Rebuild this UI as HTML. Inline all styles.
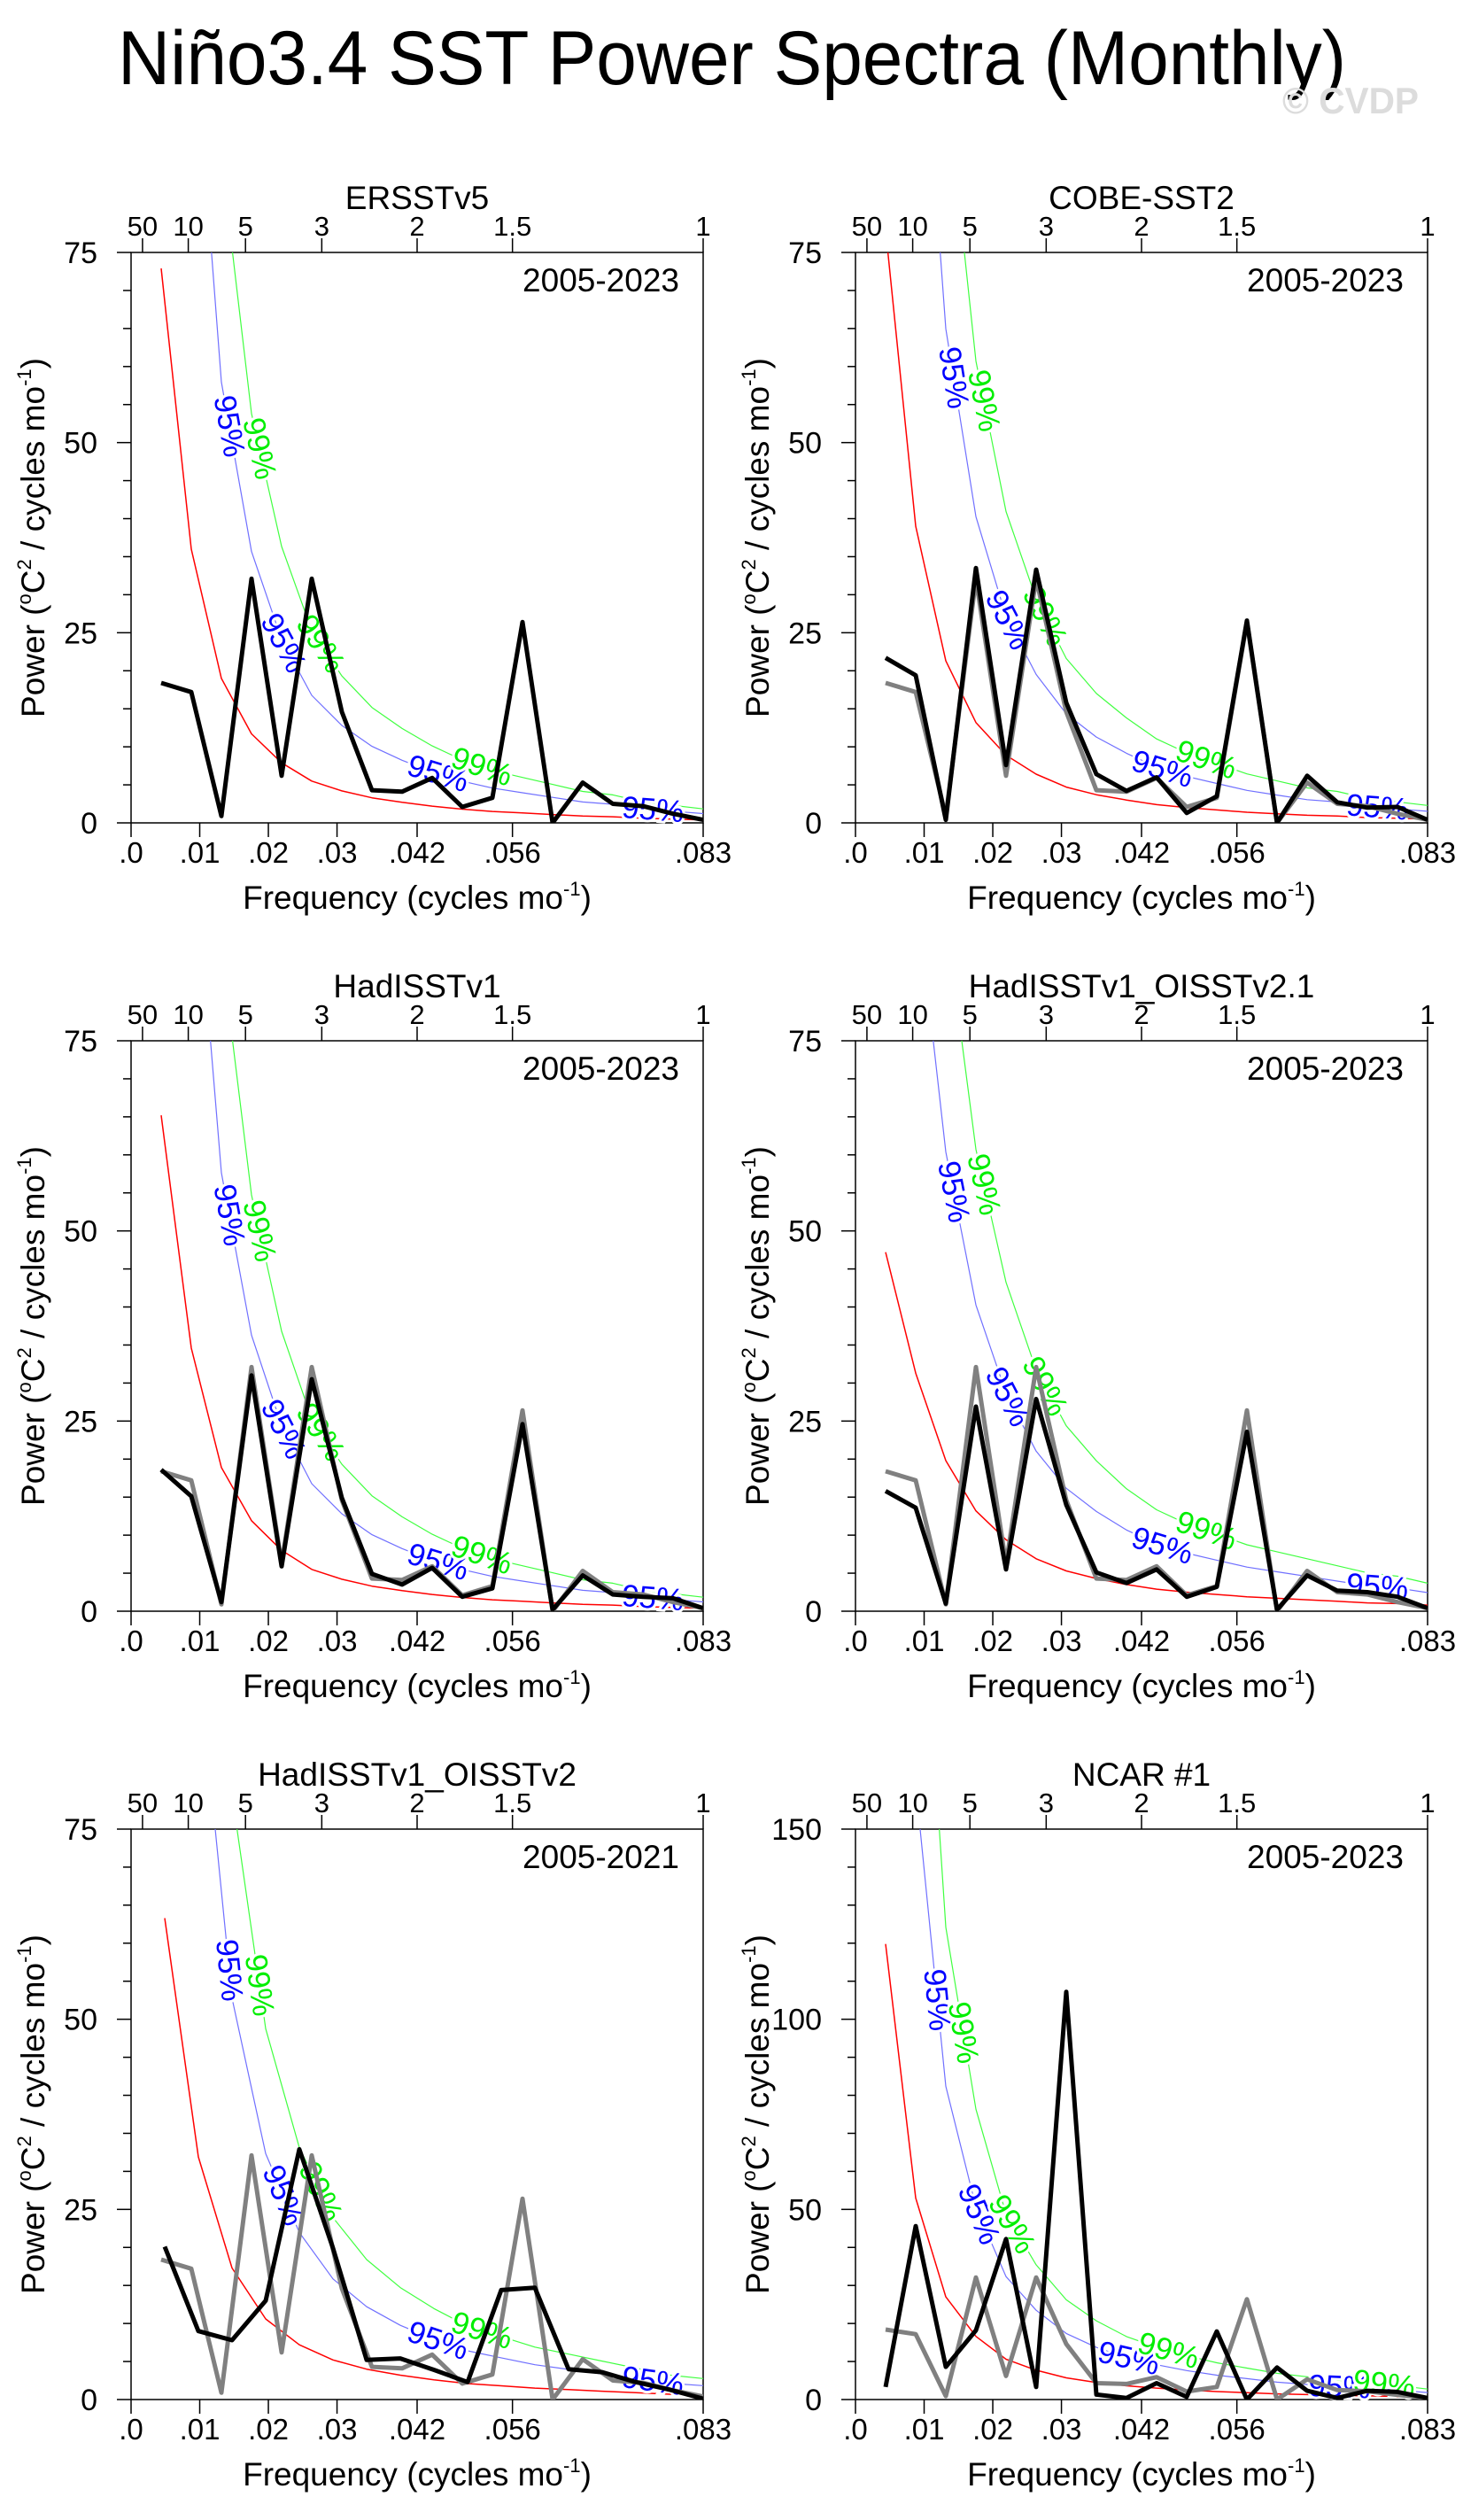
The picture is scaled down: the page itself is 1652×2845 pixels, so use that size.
<!DOCTYPE html>
<html><head><meta charset="utf-8">
<style>
html,body{margin:0;padding:0;background:#fff;}
svg{display:block;font-family:"Liberation Sans",Arial,sans-serif;}
</style></head>
<body>
<svg id="chart" width="1652" height="2845" viewBox="0 0 1652 2845" xmlns="http://www.w3.org/2000/svg">
<text x="133" y="95" font-size="86" textLength="1387" lengthAdjust="spacingAndGlyphs">Niño3.4 SST Power Spectra (Monthly)</text>
<text x="1448" y="128" font-size="42" font-weight="bold" fill="#dcdcdc" textLength="154" lengthAdjust="spacingAndGlyphs">© CVDP</text>
</svg>
<script>
// Reference observation (ERSSTv5) spectrum, 2005-2023 (19 values at k/228 cycles/mo)
const ersstVals=[18.4,17.2,0.9,32.1,6.2,32.1,14.6,4.3,4.1,5.9,2.1,3.3,26.4,0,5.3,2.5,2.2,1.2,0.4];
const ersstRed=[72.9,36,19,11.7,7.9,5.5,4.2,3.3,2.7,2.2,1.8,1.5,1.3,1.1,0.9,0.8,0.6,0.5,0.4];
const cobeVals=[21.7,19.4,0.4,33.5,7.6,33.3,15.8,6.4,4.2,6.0,1.3,3.5,26.6,0,6.2,2.7,2.0,2.1,0.4];
const cobeRed=[78,39,21.3,13.2,8.9,6.4,4.7,3.7,3.0,2.4,2.0,1.7,1.4,1.2,1.0,0.9,0.7,0.6,0.5];
const hadVals=[18.6,15.1,1.2,31,5.9,30.5,14.9,4.9,3.5,5.7,1.9,3.0,24.6,0.2,4.7,2.2,1.9,1.7,0.4];
const hadRed=[65.2,34.6,18.9,11.9,8.0,5.5,4.2,3.3,2.7,2.2,1.8,1.5,1.3,1.1,0.9,0.8,0.6,0.5,0.4];
const oi21Vals=[15.8,13.6,1.0,26.9,5.5,27.9,14.0,5.1,3.7,5.5,1.9,3.2,23.6,0.2,4.7,2.7,2.5,1.9,0.4];
const oi21Red=[47.2,31.3,19.8,13.2,9.4,6.9,5.3,4.3,3.5,2.9,2.5,2.2,1.9,1.7,1.5,1.3,1.1,1.0,0.8];
const oi2Vals=[20.1,9.0,7.8,13.0,32.9,19.9,5.2,5.4,3.9,2.3,14.4,14.7,4.0,3.6,2.3,1.3,0.1];
const oi2Red=[63.3,31.9,17.3,10.6,7.2,5.2,4.0,3.2,2.6,2.1,1.8,1.5,1.3,1.1,0.9,0.7,0.6];
const ncarVals=[3.3,45.6,8.6,18.2,42.2,3.3,107.2,1.3,0.4,4.3,0.7,17.9,0,8.4,2.3,0.4,2.3,2.0,0.4];
const ncarRed=[119.8,53,27,16.6,10.6,7.7,5.7,4.5,3.6,3.0,2.5,2.1,1.8,1.5,1.3,1.1,1.0,0.8,0.6];
const panelTitles=["ERSSTv5","COBE-SST2","HadISSTv1","HadISSTv1_OISSTv2.1","HadISSTv1_OISSTv2","NCAR #1"];
const panelYears=["2005-2023","2005-2023","2005-2023","2005-2023","2005-2021","2005-2023"];
const panelMonths=[228,228,228,228,204,228];
const panelYmax=[75,75,75,75,75,150];
const xTickVals=[0,0.01,0.02,0.03,1/24,1/18,1/12];
const xTickLabels=[".0",".01",".02",".03",".042",".056",".083"];
const periodYears=[50,10,5,3,2,1.5,1];
const f95=3.05, f99=4.6;
const labelFreqStd=[[.0143,"95"],[.0187,"99"],[.0222,"95"],[.0276,"99"],[.0447,"95"],[.0511,"99"],[.076,"95"]];
const labelFreqNcar=[[.0119,"95"],[.0157,"99"],[.018,"95"],[.0228,"99"],[.0398,"95"],[.0456,"99"],[.0705,"95"],[.077,"99"]];

const NS="http://www.w3.org/2000/svg";
const svg=document.getElementById('chart');
function mk(tag,attrs,parent){const e=document.createElementNS(NS,tag);for(const k in attrs)e.setAttribute(k,attrs[k]);(parent||svg).appendChild(e);return e;}

const panels=[
 {vals:ersstVals,red:ersstRed,gray:false},
 {vals:cobeVals,red:cobeRed,gray:true},
 {vals:hadVals,red:hadRed,gray:true},
 {vals:oi21Vals,red:oi21Red,gray:true},
 {vals:oi2Vals,red:oi2Red,gray:true},
 {vals:ncarVals,red:ncarRed,gray:true}
];

panels.forEach((p,i)=>{
  const col=i%2,row=Math.floor(i/2);
  const L=148+818*col, T=285+890*row, W=646, H=644, B=T+H, R=L+W;
  const ymax=panelYmax[i];
  const xs=f=>L+f/(1/12)*W;
  const ys=v=>B-v/ymax*H;
  const g=mk('g',{});
  
  
  const cid='clip'+i;
  const cp=mk('clipPath',{id:cid},g);mk('rect',{x:L,y:T,width:W,height:H},cp);

  const t=mk('text',{x:L+W/2,y:T-49,'font-size':37,'text-anchor':'middle'},g);t.textContent=panelTitles[i];
  
  const yr=mk('text',{x:L+619,y:T+44,'font-size':37,'text-anchor':'end'},g);yr.textContent=panelYears[i];
  

  const fr=mk('rect',{x:L,y:T,width:W,height:H,fill:'none',stroke:'#000','stroke-width':1.5},g);
  
  const minorStep=ymax>100?10:5, majorStep=ymax>100?50:25;
  for(let v=0;v<=ymax+0.01;v+=minorStep){
    const major=Math.abs(v/majorStep-Math.round(v/majorStep))<1e-6;
    mk('line',{x1:L-(major?16:9),x2:L,y1:ys(v),y2:ys(v),stroke:'#000','stroke-width':1.5},g);
    if(major){const tl=mk('text',{x:L-38,y:ys(v)+12,'font-size':34,'text-anchor':'end'},g);tl.textContent=v;
      }
  }
  xTickVals.forEach((f,k)=>{
    mk('line',{x1:xs(f),x2:xs(f),y1:B,y2:B+16,stroke:'#000','stroke-width':1.5},g);
    const tl=mk('text',{x:xs(f),y:B+45,'font-size':33,'text-anchor':'middle'},g);tl.textContent=xTickLabels[k];
    
  });
  periodYears.forEach(py=>{
    const f=1/(py*12);
    mk('line',{x1:xs(f),x2:xs(f),y1:T-16,y2:T,stroke:'#000','stroke-width':1.5},g);
    const tl=mk('text',{x:xs(f),y:T-19,'font-size':31,'text-anchor':'middle'},g);tl.textContent=py;
    
  });
  const xt=mk('text',{x:L+W/2,y:B+97,'font-size':37,'text-anchor':'middle'},g);
  xt.innerHTML='Frequency (cycles mo<tspan dy="-15" font-size="22">-1</tspan><tspan dy="15">)</tspan>';
  
  const yt=mk('text',{x:0,y:0,'font-size':37,'text-anchor':'middle',transform:`translate(${L-98},${T+H/2}) rotate(-90)`},g);
  yt.innerHTML='Power (<tspan dy="-15" font-size="22">o</tspan><tspan dy="15">C</tspan><tspan dy="-15" font-size="22">2</tspan><tspan dy="15"> / cycles mo</tspan><tspan dy="-15" font-size="22">-1</tspan><tspan dy="15">)</tspan>';
  

  const n=panelMonths[i];
  const freq=k=>(k+1)/n;
  const pts=(arr,fac)=>arr.map((v,k)=>[xs(freq(k)),ys(v*fac)]);
  const poly=(P,attrs,name)=>{const e=mk('polyline',Object.assign({points:P.map(q=>q[0].toFixed(1)+','+q[1].toFixed(1)).join(' '),fill:'none','clip-path':`url(#${cid})`,'stroke-linejoin':'round'},attrs),g);
    return e;};
  const redP=pts(p.red,1), blueP=pts(p.red,f95), greenP=pts(p.red,f99);
  poly(redP,{stroke:'#ff0000','stroke-width':1.5},'red-noise-line');
  poly(blueP,{stroke:'#7070ff','stroke-width':1.2},'sig-95-line');
  poly(greenP,{stroke:'#40ff40','stroke-width':1.2},'sig-99-line');

  const labs=i===5?labelFreqNcar:labelFreqStd;
  labs.forEach(([f,lev])=>{
    const P=lev==="95"?blueP:greenP;
    const x=xs(f);
    let k=0;while(k<P.length-2&&P[k+1][0]<x)k++;
    let a=P[k],b=P[k+1];
    const tt=(x-a[0])/(b[0]-a[0]);const y=a[1]+tt*(b[1]-a[1]);
    if(y<T+20)return;
    const ang=Math.atan2(b[1]-a[1],b[0]-a[0])*180/Math.PI;
    const lt=mk('text',{x:0,y:0,'font-size':35,'text-anchor':'middle','dominant-baseline':'central',fill:lev==="95"?'#0000ff':'#00ee00',stroke:'#fff','stroke-width':6,'paint-order':'stroke',transform:`translate(${x.toFixed(1)},${y.toFixed(1)}) rotate(${ang.toFixed(1)})`},g);
    lt.textContent=lev+'%';
    
  });

  if(p.gray){
    const gp=ersstVals.map((v,k)=>[xs((k+1)/228),ys(v)]);
    poly(gp,{stroke:'#808080','stroke-width':5},'reference-ersst-line');
  }
  poly(pts(p.vals,1),{stroke:'#000','stroke-width':5},'spectrum-line');
});
</script>
</body></html>
